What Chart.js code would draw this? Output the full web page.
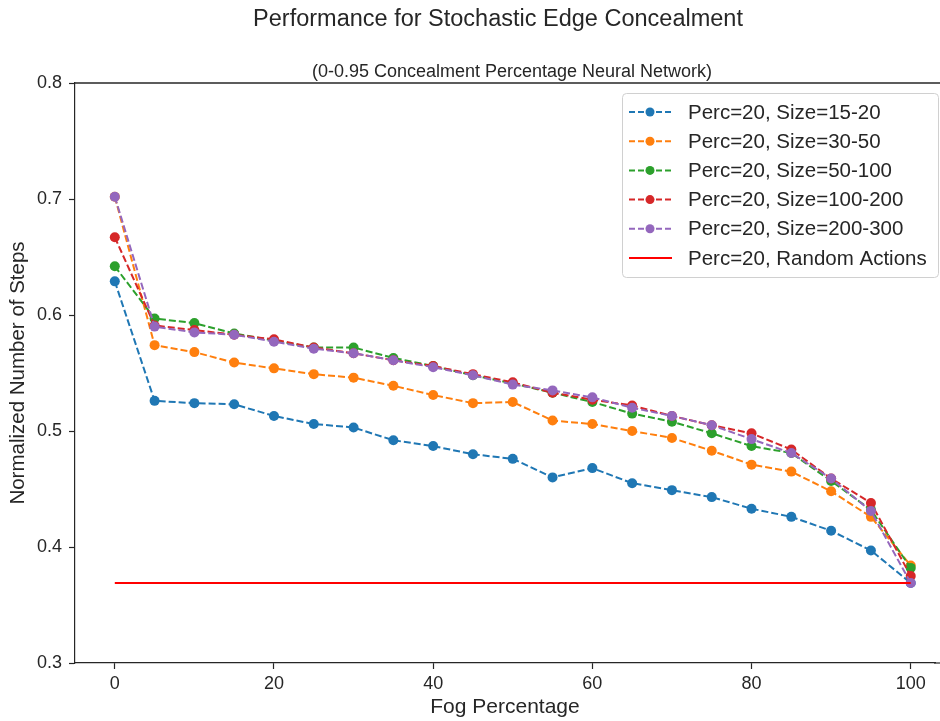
<!DOCTYPE html>
<html>
<head>
<meta charset="utf-8">
<script src="https://cdn.jsdelivr.net/npm/chart.js@4.4.1/dist/chart.umd.min.js"></script>
<style>
  html, body { margin: 0; padding: 0; background: #fff; overflow: hidden; }
  #wrap { width: 940px; height: 721px; position: relative; }
</style>
</head>
<body>
<div id="wrap"><canvas id="grafico"></canvas></div>
<script>
// valores
const fogPerc = [0, 5, 10, 15, 20, 25, 30, 35, 40, 45, 50, 55, 60, 65, 70, 75, 80, 85, 90, 95, 100];

const size15_20 = [0.629, 0.526, 0.524, 0.523, 0.513, 0.506, 0.503, 0.492, 0.487, 0.480, 0.476,
                   0.460, 0.468, 0.455, 0.449, 0.443, 0.433, 0.426, 0.414, 0.397, 0.369];
const size30_50 = [0.702, 0.574, 0.568, 0.559, 0.554, 0.549, 0.546, 0.539, 0.531, 0.524, 0.525,
                   0.509, 0.506, 0.500, 0.494, 0.483, 0.471, 0.465, 0.448, 0.426, 0.384];
const size50_100 = [0.642, 0.597, 0.593, 0.584, 0.578, 0.572, 0.572, 0.563, 0.556, 0.548, 0.541,
                    0.533, 0.525, 0.515, 0.508, 0.498, 0.487, 0.481, 0.457, 0.432, 0.382];
const size100_200 = [0.667, 0.591, 0.587, 0.583, 0.579, 0.572, 0.567, 0.561, 0.556, 0.549, 0.542,
                     0.533, 0.527, 0.522, 0.513, 0.505, 0.498, 0.484, 0.459, 0.438, 0.375];
const size200_300 = [0.702, 0.590, 0.585, 0.583, 0.577, 0.571, 0.567, 0.561, 0.555, 0.548, 0.540,
                     0.535, 0.529, 0.520, 0.513, 0.505, 0.493, 0.481, 0.459, 0.431, 0.369];

const randomX = [0, 100];
const randomLevel = [0.369, 0.369];

const seriesLabels = ['Perc=20, Size=15-20', 'Perc=20, Size=30-50', 'Perc=20, Size=50-100',
                      'Perc=20, Size=100-200', 'Perc=20, Size=200-300'];
const seriesColors = ['#1f77b4', '#ff7f0e', '#2ca02c', '#d62728', '#9467bd'];
const seriesData = [size15_20, size30_50, size50_100, size100_200, size200_300];

const xTicks = [0, 20, 40, 60, 80, 100];
const yTicks = [0.3, 0.4, 0.5, 0.6, 0.7, 0.8];

const FONTE = '"Liberation Sans", Arial, sans-serif';
const COR_TEXTO = '#262626';
const TRACO = [7, 3];

function montarPontos(xs, ys){
    return xs.map((x, i) => ({ x: x, y: ys[i] }));
}

const datasets = seriesData.map((ys, i) => ({
    label: seriesLabels[i],
    data: montarPontos(fogPerc, ys),
    borderColor: seriesColors[i],
    backgroundColor: seriesColors[i],
    borderWidth: 2,
    borderDash: TRACO,
    pointRadius: 5,
    pointHoverRadius: 5,
    pointBorderWidth: 0,
    tension: 0,
    order: 10 - i
}));
datasets.push({
    label: 'Perc=20, Random Actions',
    data: montarPontos(randomX, randomLevel),
    borderColor: '#ff0000',
    backgroundColor: '#ff0000',
    borderWidth: 2,
    pointRadius: 0,
    order: 0,
    isSolid: true
});

// títulos, bordas e legenda desenhados à mão
const extras = {
    id: 'extras',
    afterDraw(chart){
        const ctx = chart.ctx;
        const area = chart.chartArea;
        ctx.save();
        // borda superior e prolongamento da inferior até a margem (figura cortada)
        ctx.strokeStyle = COR_TEXTO;
        ctx.lineWidth = 1.5;
        ctx.beginPath();
        ctx.moveTo(area.left, area.top);
        ctx.lineTo(chart.width, area.top);
        ctx.stroke();
        ctx.lineWidth = 1.2;
        ctx.beginPath();
        ctx.moveTo(area.right - 1, area.bottom);
        ctx.lineTo(chart.width, area.bottom);
        ctx.stroke();

        // títulos
        ctx.fillStyle = COR_TEXTO;
        ctx.textAlign = 'center';
        ctx.textBaseline = 'middle';
        ctx.font = '23.5px ' + FONTE;
        ctx.fillText('Performance for Stochastic Edge Concealment', 498, 20);
        ctx.font = '18px ' + FONTE;
        ctx.fillText('(0-0.95 Concealment Percentage Neural Network)', 512, 72);

        // legenda
        const bx = 622, by = 93, bw = 316, bh = 184;
        ctx.fillStyle = 'rgba(255,255,255,0.85)';
        ctx.strokeStyle = '#d0d0d0';
        ctx.lineWidth = 1;
        ctx.beginPath();
        ctx.roundRect(bx + 0.5, by + 0.5, bw, bh, 4);
        ctx.fill();
        ctx.stroke();

        ctx.font = '20.5px ' + FONTE;
        ctx.textAlign = 'left';
        chart.data.datasets.forEach((ds, i) => {
            const y = by + 19 + i * 29.2;
            ctx.strokeStyle = ds.borderColor;
            ctx.lineWidth = ds.borderWidth;
            ctx.setLineDash(ds.isSolid ? [] : [6, 3]);
            ctx.beginPath();
            ctx.moveTo(629, y);
            ctx.lineTo(672, y);
            ctx.stroke();
            ctx.setLineDash([]);
            if(!ds.isSolid){
                ctx.fillStyle = ds.backgroundColor;
                ctx.beginPath();
                ctx.arc(650, y, 4.5, 0, Math.PI * 2);
                ctx.fill();
            }
            ctx.fillStyle = COR_TEXTO;
            ctx.fillText(ds.label, 688, y + 1);
        });
        ctx.restore();
    }
};

new Chart(document.getElementById('grafico'), {
    type: 'line',
    data: { datasets: datasets },
    options: {
        responsive: true,
        maintainAspectRatio: false,
        animation: false,
        layout: { padding: { top: 83, right: 0, left: 0, bottom: 0 } },
        plugins: {
            legend: { display: false },
            title: { display: false },
            tooltip: { enabled: false }
        },
        scales: {
            x: {
                type: 'linear',
                min: -5,
                max: 103.05,
                afterBuildTicks: ax => { ax.ticks = xTicks.map(v => ({ value: v })); },
                afterFit: ax => { ax.height = 58; },
                grid: { drawOnChartArea: false, drawTicks: true, tickLength: 6, color: COR_TEXTO, tickWidth: 1.2 },
                border: { display: true, color: COR_TEXTO, width: 1.2 },
                ticks: { color: COR_TEXTO, font: { family: FONTE, size: 18 }, padding: 4, maxRotation: 0 },
                title: { display: true, text: 'Fog Percentage', color: COR_TEXTO,
                         font: { family: FONTE, size: 21 }, padding: { top: 0, bottom: 1 } }
            },
            y: {
                type: 'linear',
                min: 0.3,
                max: 0.8,
                afterBuildTicks: ax => { ax.ticks = yTicks.map(v => ({ value: v })); },
                afterFit: ax => { ax.width = 75; },
                grid: { drawOnChartArea: false, drawTicks: true, tickLength: 6, color: COR_TEXTO, tickWidth: 1.2 },
                border: { display: true, color: COR_TEXTO, width: 1.2 },
                ticks: { color: COR_TEXTO, font: { family: FONTE, size: 18 }, padding: 7,
                         callback: v => v.toFixed(1) },
                title: { display: true, text: 'Normalized Number of Steps', color: COR_TEXTO,
                         font: { family: FONTE, size: 20.5 }, padding: { top: 6, bottom: 0 } }
            }
        }
    },
    plugins: [extras]
});
</script>
</body>
</html>
